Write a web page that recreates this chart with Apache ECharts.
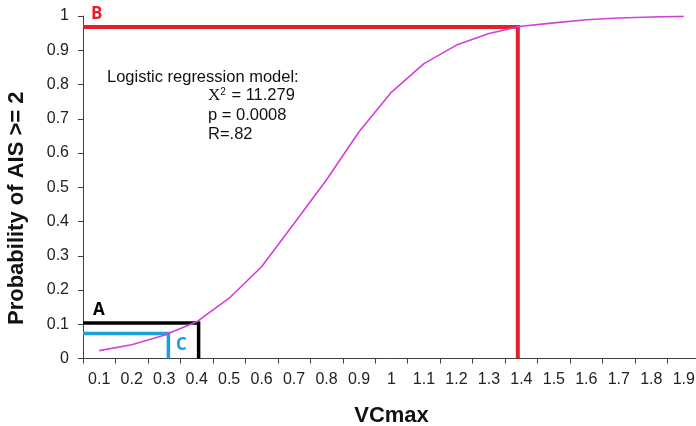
<!DOCTYPE html>
<html>
<head>
<meta charset="utf-8">
<script src="https://cdn.jsdelivr.net/npm/echarts@6/dist/echarts.min.js"></script>
<style>html,body{margin:0;padding:0;background:#fff}#c{width:696px;height:426px}</style>
</head>
<body>
<div id="c"></div>
<script>
// Categories (VCmax) and fitted probability curve
var categories = ['0.1','0.2','0.3','0.4','0.5','0.6','0.7','0.8','0.9','1','1.1','1.2','1.3','1.4','1.5','1.6','1.7','1.8','1.9'];
var probability = [0.023,0.040,0.068,0.107,0.176,0.268,0.394,0.522,0.662,0.778,0.861,0.915,0.949,0.970,0.980,0.989,0.994,0.997,0.999];
var yTicks = [0,0.1,0.2,0.3,0.4,0.5,0.6,0.7,0.8,0.9,1];
// Annotation lines: [xStart, level, xCorner]
var lineB = [0.05, 0.968, 1.389];
var lineA = [0.05, 0.104, 0.406];
var lineC = [0.05, 0.073, 0.313];

function path(a){ return [[a[0],a[1]],[a[2],a[1]],[a[2],0]]; }

var chart = echarts.init(document.getElementById('c'), null, {renderer:'canvas'});
var axisColor = '#404040';
chart.setOption({
  animation:false,
  grid:{left:83, right:-4, top:16, bottom:67.5, containLabel:false, outerBoundsMode:'none'},
  xAxis:[{
    type:'category', data:categories, boundaryGap:true,
    name:'VCmax', nameLocation:'middle', nameGap:46,
    nameTextStyle:{fontFamily:'Liberation Sans', fontWeight:'bold', fontSize:22, color:'#111'},
    axisLine:{lineStyle:{color:axisColor, width:1}},
    axisTick:{show:true, inside:false, length:5, lineStyle:{color:axisColor}},
    axisLabel:{interval:0, margin:13, fontFamily:'Liberation Sans', fontSize:16, color:'#222'},
    splitLine:{show:false}
  },{
    type:'value', min:0.05, max:1.95, show:false
  }],
  yAxis:{
    type:'value', min:0, max:1, interval:0.1,
    name:'Probability of AIS >= 2', nameLocation:'middle', nameGap:55,
    nameTextStyle:{fontFamily:'Liberation Sans', fontWeight:'bold', fontSize:22, color:'#111', padding:[0,42,0,0]},
    axisLine:{show:true, lineStyle:{color:axisColor, width:1}},
    axisTick:{show:true, inside:false, length:5, lineStyle:{color:axisColor}},
    axisLabel:{margin:14, fontFamily:'Liberation Sans', fontSize:16, color:'#222',
      formatter:function(v){ return String(Math.round(v*10)/10); }},
    splitLine:{show:false}
  },
  series:[
    {type:'line', data:probability, xAxisIndex:0, showSymbol:false, smooth:false,
     lineStyle:{color:'#d23fd9', width:1.6}, z:3},
    {type:'line', xAxisIndex:1, data:path(lineB), showSymbol:false,
     lineStyle:{color:'#e3202a', width:4, join:'miter', cap:'butt'}, z:2},
    {type:'line', xAxisIndex:1, data:path(lineA), showSymbol:false,
     lineStyle:{color:'#000000', width:3.5, join:'miter', cap:'butt'}, z:2},
    {type:'line', xAxisIndex:1, data:path(lineC), showSymbol:false,
     lineStyle:{color:'#1c9fdc', width:3.5, join:'miter', cap:'butt'}, z:2}
  ],
  graphic:[
    {type:'text', left:91, top:6, style:{text:'B', fill:'#e3202a', font:'bold 17px "Open Sans"'}},
    {type:'text', left:93, top:302, style:{text:'A', fill:'#000', font:'bold 17px "Open Sans"'}},
    {type:'text', left:176, top:337, style:{text:'C', fill:'#1c9fdc', font:'bold 17px "Open Sans"'}},
    {type:'text', left:107, top:69, style:{text:'Logistic regression model:', fill:'#111', font:'16.5px "Liberation Sans"'}},
    {type:'text', left:208, top:87, style:{
      text:'{x|X}{s|2} = 11.279', fill:'#111', font:'16.5px "Liberation Sans"',
      rich:{x:{fontFamily:'Liberation Serif', fontSize:17, fill:'#111'}, s:{fontSize:10, verticalAlign:'top', padding:[0,1,6,0], fill:'#111'}}}},
    {type:'text', left:208, top:107, style:{text:'p = 0.0008', fill:'#111', font:'16.5px "Liberation Sans"'}},
    {type:'text', left:208, top:126, style:{text:'R=.82', fill:'#111', font:'16.5px "Liberation Sans"'}}
  ]
});
</script>
</body>
</html>
